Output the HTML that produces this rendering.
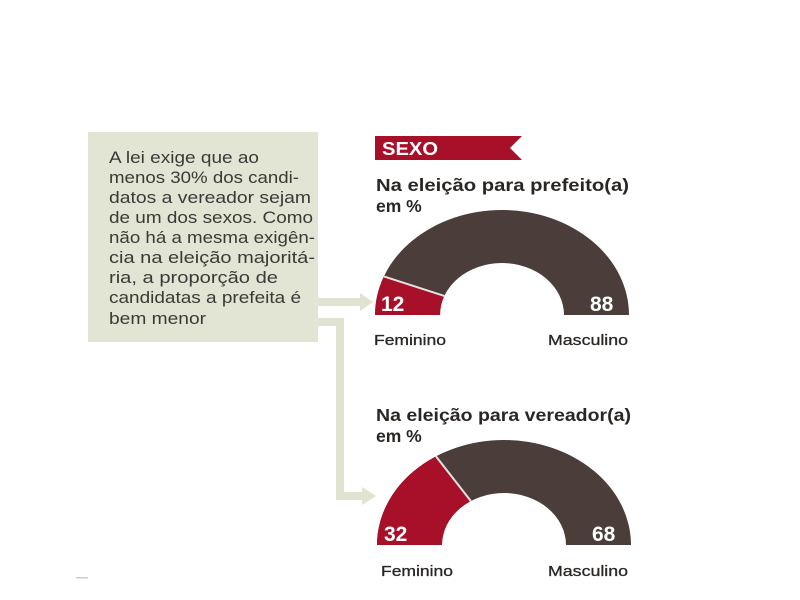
<!DOCTYPE html>
<html><head><meta charset="utf-8"><style>
body{margin:0;background:#fff;}
svg{display:block}
text{font-family:"Liberation Sans",sans-serif;}
</style></head><body>
<svg width="800" height="600" viewBox="0 0 800 600">
<rect x="88" y="132" width="230" height="210" fill="#e2e4d4"/>
<g font-size="16.5" fill="#3a3a36" lengthAdjust="spacingAndGlyphs">
<text x="109" y="163" textLength="150" lengthAdjust="spacingAndGlyphs">A lei exige que ao</text>
<text x="109" y="183" textLength="190" lengthAdjust="spacingAndGlyphs">menos 30% dos candi-</text>
<text x="109" y="203" textLength="202" lengthAdjust="spacingAndGlyphs">datos a vereador sejam</text>
<text x="109" y="223" textLength="204" lengthAdjust="spacingAndGlyphs">de um dos sexos. Como</text>
<text x="109" y="243" textLength="206" lengthAdjust="spacingAndGlyphs">não há a mesma exigên-</text>
<text x="109" y="263" textLength="206" lengthAdjust="spacingAndGlyphs">cia na eleição majoritá-</text>
<text x="109" y="283" textLength="169" lengthAdjust="spacingAndGlyphs">ria, a proporção de</text>
<text x="109" y="303" textLength="192" lengthAdjust="spacingAndGlyphs">candidatas a prefeita é</text>
<text x="109" y="324" textLength="97" lengthAdjust="spacingAndGlyphs">bem menor</text>
</g>
<g stroke="#dfe3cf" stroke-width="8" fill="none">
<path d="M318 302 H362"/>
<path d="M318 322 H340 V496 H365"/>
</g>
<path d="M360 293 L373 302 L360 311 Z" fill="#dfe3cf"/>
<path d="M362 487 L376 496 L362 505 Z" fill="#dfe3cf"/>
<path d="M375 136 H522 L510 148 L522 160 H375 Z" fill="#a8102a"/>
<text x="382" y="155" font-size="18" font-weight="bold" fill="#fff" textLength="56" lengthAdjust="spacingAndGlyphs">SEXO</text>
<g font-size="17.5" font-weight="bold" fill="#2a2624">
<text x="376" y="191" textLength="253" lengthAdjust="spacingAndGlyphs">Na eleição para prefeito(a)</text>
<text x="376" y="212">em %</text>
<text x="376" y="421" textLength="255" lengthAdjust="spacingAndGlyphs">Na eleição para vereador(a)</text>
<text x="376" y="442">em %</text>
</g>
<path d="M375 315 A127 105 0 0 1 629 315 H564 A62 52 0 0 0 440 315 Z" fill="#4a3d3a"/>
<path d="M375 315 A127 105 0 0 1 383.9 276.4 L444.3 295.9 A62 52 0 0 0 440 315 Z" fill="#a8102a"/>
<path d="M383.9 276.4 L444.3 295.9" stroke="#e8e0e0" stroke-width="2"/>
<path d="M377 545 A127 105 0 0 1 631 545 H566 A62 52 0 0 0 442 545 Z" fill="#4a3d3a"/>
<path d="M377 545 A127 105 0 0 1 436 456.4 L470.8 501 A62 52 0 0 0 442 545 Z" fill="#a8102a"/>
<path d="M436 456.4 L470.8 501" stroke="#e8e0e0" stroke-width="2"/>
<g font-size="21" font-weight="bold" fill="#fff">
<text x="381" y="311">12</text>
<text x="590" y="311">88</text>
<text x="384" y="541">32</text>
<text x="592" y="541">68</text>
</g>
<g font-size="15" fill="#2a2624" stroke="#2a2624" stroke-width="0.3">
<text x="374" y="345" textLength="72" lengthAdjust="spacingAndGlyphs">Feminino</text>
<text x="548" y="345" textLength="80" lengthAdjust="spacingAndGlyphs">Masculino</text>
<text x="381" y="576" textLength="72" lengthAdjust="spacingAndGlyphs">Feminino</text>
<text x="548" y="576" textLength="80" lengthAdjust="spacingAndGlyphs">Masculino</text>
</g>
<rect x="76" y="577" width="12" height="1.5" fill="#ccc"/>
</svg>
</body></html>
